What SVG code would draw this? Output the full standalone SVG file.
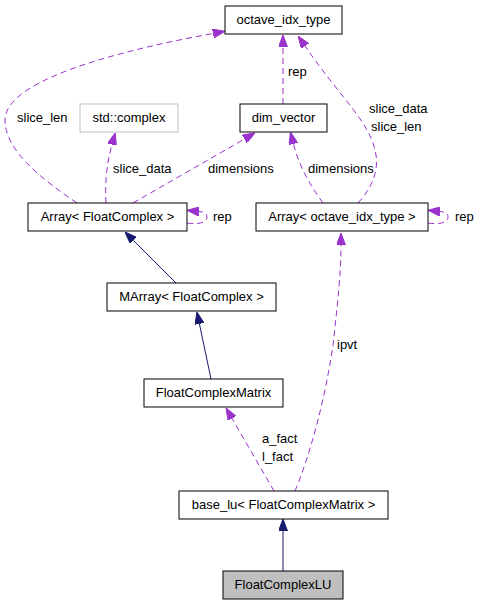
<svg xmlns="http://www.w3.org/2000/svg" width="480" height="605" viewBox="0 0 480 605">
<style>
text{font-family:"Liberation Sans",Arial,sans-serif;font-size:13px;fill:#000}
.n text{text-anchor:middle}
.n rect{fill:#fff;stroke:#000;stroke-width:1}
.d{fill:none;stroke:#9a32cd;stroke-width:1;stroke-dasharray:6,4}
.s{fill:none;stroke:#191970;stroke-width:1}
</style>
<defs>
<marker id="ap" viewBox="0 0 12 9" markerWidth="12" markerHeight="9" refX="0" refY="4.5" orient="auto" markerUnits="userSpaceOnUse"><path d="M0,0 L12,4.5 L0,9 z" fill="#9a32cd" stroke="#9a32cd"/></marker>
<marker id="an" viewBox="0 0 12 9" markerWidth="12" markerHeight="9" refX="0" refY="4.5" orient="auto" markerUnits="userSpaceOnUse"><path d="M0,0 L12,4.5 L0,9 z" fill="#191970" stroke="#191970"/></marker>
</defs>
<g id="edges">
<path class="d" d="M283,104 L283,47" marker-end="url(#ap)"/>
<path class="d" d="M77,203 C40,178 5,150 5,120 C5,75 150,45 213,33.5" marker-end="url(#ap)"/>
<path class="d" d="M358,203 C372,188 380,170 375,150 C368,120 340,97 305,46" marker-end="url(#ap)"/>
<path class="d" d="M106,203 C105,185 106,166 112,144.5" marker-end="url(#ap)"/>
<path class="d" d="M133,203 L244.5,139" marker-end="url(#ap)"/>
<path class="d" d="M323,203 C310,185 299,166 293.4,143.8" marker-end="url(#ap)"/>
<path class="d" d="M187,223 C200,225 207,222 207,217 C207,213 204,212 199,211.5" marker-end="url(#ap)"/>
<path class="d" d="M428,223 C441,225 448,222 448,217 C448,213 445,212 440,211.5" marker-end="url(#ap)"/>
<path class="d" d="M295,491 C310,455 325,400 333,345 C338,300 341,272 341,245" marker-end="url(#ap)"/>
<path class="d" d="M274,491 L232,418.4" marker-end="url(#ap)"/>
<path class="s" d="M176,283 L133.5,240.5" marker-end="url(#an)"/>
<path class="s" d="M211,379 L199.4,323.8" marker-end="url(#an)"/>
<path class="s" d="M283,571 L283,531" marker-end="url(#an)"/>
<text x="288" y="76">rep</text>
<text x="17" y="122">slice_len</text>
<text x="369" y="113">slice_data</text>
<text x="371" y="131">slice_len</text>
<text x="113" y="173">slice_data</text>
<text x="208" y="173">dimensions</text>
<text x="308" y="173">dimensions</text>
<text x="213" y="221">rep</text>
<text x="455" y="221">rep</text>
<text x="337" y="349">ipvt</text>
<text x="262" y="443">a_fact</text>
<text x="262" y="461">l_fact</text>
</g>
<g id="octave_idx_type" class="n"><rect x="225" y="6" width="117" height="28"/><text x="283.5" y="24">octave_idx_type</text></g>
<g id="std_complex" class="n"><rect x="80" y="104" width="98" height="28" style="stroke:#bfbfbf"/><text x="129" y="122">std::complex</text></g>
<g id="dim_vector" class="n"><rect x="240" y="104" width="87" height="28"/><text x="283.5" y="122">dim_vector</text></g>
<g id="Array_FloatComplex" class="n"><rect x="28" y="203" width="159" height="28"/><text x="107.5" y="221">Array&lt; FloatComplex &gt;</text></g>
<g id="Array_octave_idx_type" class="n"><rect x="256" y="203" width="172" height="28"/><text x="342" y="221">Array&lt; octave_idx_type &gt;</text></g>
<g id="MArray_FloatComplex" class="n"><rect x="107" y="283" width="169" height="28"/><text x="191.5" y="301">MArray&lt; FloatComplex &gt;</text></g>
<g id="FloatComplexMatrix" class="n"><rect x="144" y="379" width="139" height="28"/><text x="213.5" y="397">FloatComplexMatrix</text></g>
<g id="base_lu" class="n"><rect x="179" y="491" width="209" height="28"/><text x="283.5" y="509">base_lu&lt; FloatComplexMatrix &gt;</text></g>
<g id="FloatComplexLU" class="n"><rect x="223" y="571" width="120" height="28" style="fill:#bfbfbf"/><text x="283" y="589">FloatComplexLU</text></g>
</svg>
